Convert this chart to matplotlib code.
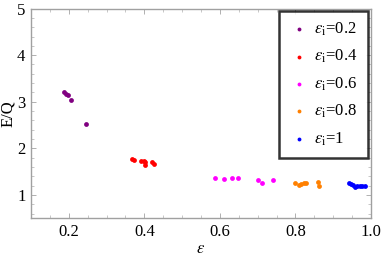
import matplotlib
matplotlib.use("Agg")
import matplotlib.pyplot as plt
from matplotlib.ticker import MultipleLocator

plt.rcParams['font.family'] = ['Liberation Serif', 'DejaVu Serif']
plt.rcParams['mathtext.fontset'] = 'stix'

labels = [r'$\epsilon_{\mathrm{i}}$=0.2', r'$\epsilon_{\mathrm{i}}$=0.4', r'$\epsilon_{\mathrm{i}}$=0.6',
          r'$\epsilon_{\mathrm{i}}$=0.8', r'$\epsilon_{\mathrm{i}}$=1']
colors = ['#800080', '#ff0000', '#ff00ff', '#ff8000', '#0000ff']

x02 = [0.188, 0.193, 0.197, 0.205, 0.246]
y02 = [3.22, 3.17, 3.14, 3.04, 2.52]
x04 = [0.368, 0.373, 0.392, 0.399, 0.403, 0.403, 0.420, 0.426]
y04 = [1.77, 1.76, 1.74, 1.74, 1.71, 1.64, 1.71, 1.67]
x06 = [0.588, 0.611, 0.632, 0.648, 0.700, 0.712, 0.740]
y06 = [1.36, 1.34, 1.36, 1.36, 1.32, 1.26, 1.32]
x08 = [0.798, 0.809, 0.816, 0.823, 0.828, 0.860, 0.862]
y08 = [1.26, 1.22, 1.23, 1.25, 1.26, 1.27, 1.19]
x10 = [0.942, 0.947, 0.952, 0.957, 0.963, 0.970, 0.977, 0.985]
y10 = [1.26, 1.23, 1.21, 1.18, 1.19, 1.20, 1.20, 1.20]

xs = [x02, x04, x06, x08, x10]
ys = [y02, y04, y06, y08, y10]

fig = plt.figure(figsize=(3.82, 2.59), dpi=100)
ax = fig.add_axes([0.0812, 0.157, 0.89, 0.81])
for x, y, c, l in zip(xs, ys, colors, labels):
    ax.scatter(x, y, s=12, color=c, label=l, linewidths=0)

ax.set_xlim(0.1, 1.0)
ax.set_ylim(0.5, 5.0)
ax.xaxis.set_major_locator(MultipleLocator(0.2))
ax.xaxis.set_minor_locator(MultipleLocator(0.05))
ax.yaxis.set_major_locator(MultipleLocator(1))
ax.yaxis.set_minor_locator(MultipleLocator(0.2))
for s in ax.spines.values():
    s.set_color('#a0a0a0')
    s.set_linewidth(1.0)
ax.tick_params(which='both', direction='in', color='#b0b0b0', labelsize=12, top=True, right=True,
               labeltop=False, labelright=False)
ax.tick_params(which='major', length=3.5, width=0.7, pad=4)
ax.tick_params(which='minor', length=2, width=0.5)
ax.set_xticks([0.2, 0.4, 0.6, 0.8, 1.0])
ax.set_xticklabels(['0.2', '0.4', '0.6', '0.8', '1.0'])
ax.set_xlabel(r'$\epsilon$', fontsize=12, labelpad=1)
ax.set_ylabel('E/Q', fontsize=12, labelpad=1)

leg = ax.legend(loc='upper right', bbox_to_anchor=(0.99, 0.99), frameon=True, fancybox=False,
                fontsize=12, markerscale=0.8, handletextpad=0.3, labelspacing=0.6,
                borderpad=0.6, handlelength=1.2, borderaxespad=0)
leg.get_frame().set_edgecolor('black')
leg.get_frame().set_linewidth(1.8)

fig.savefig('out.png', dpi=100)
